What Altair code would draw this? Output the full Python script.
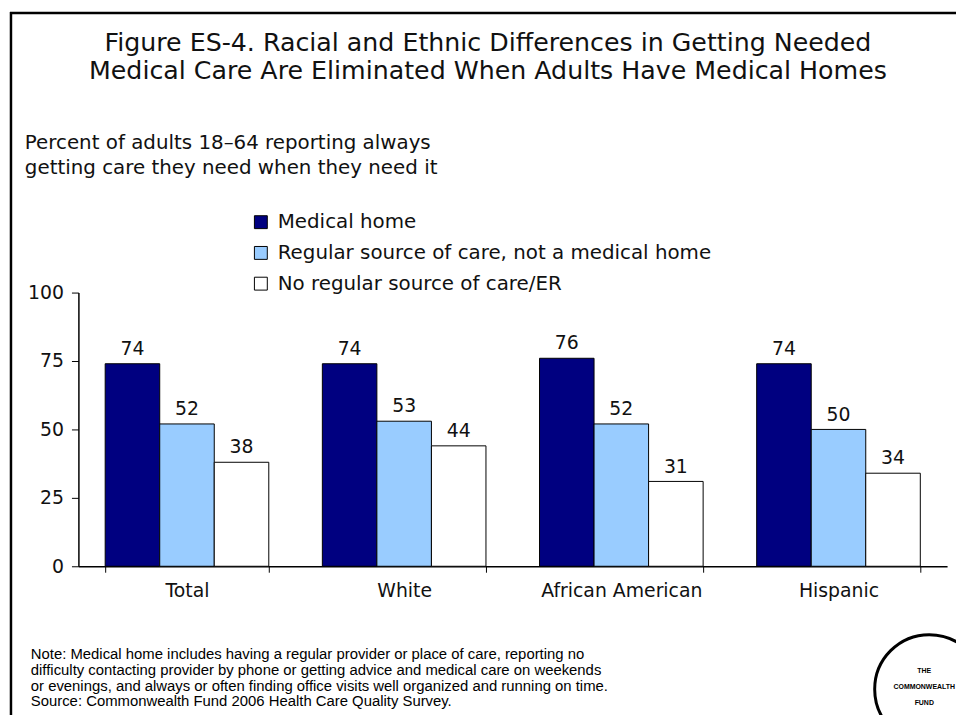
import altair as alt
import pandas as pd

categories = ["Total", "White", "African American", "Hispanic"]
groups = ["Medical home", "Regular source of care, not a medical home", "No regular source of care/ER"]
values = {
    "Medical home": [74, 74, 76, 74],
    "Regular source of care, not a medical home": [52, 53, 52, 50],
    "No regular source of care/ER": [38, 44, 31, 34],
}
colors = ["#000080", "#99CCFF", "#FFFFFF"]
y_ticks = [0, 25, 50, 75, 100]

title_lines = "Figure ES-4. Racial and Ethnic Differences in Getting Needed\nMedical Care Are Eliminated When Adults Have Medical Homes"
subtitle_lines = "Percent of adults 18\u201364 reporting always\ngetting care they need when they need it"
note_lines = ("Note: Medical home includes having a regular provider or place of care, reporting no\n"
              "difficulty contacting provider by phone or getting advice and medical care on weekends\n"
              "or evenings, and always or often finding office visits well organized and running on time.\n"
              "Source: Commonwealth Fund 2006 Health Care Quality Survey.")
logo_lines = "THE\nCOMMONWEALTH\nFUND"

rows = []
for g in groups:
    for c, v in zip(categories, values[g]):
        rows.append({"Category": c, "Group": g, "Value": v})
df = pd.DataFrame(rows)

FONT = "DejaVu Sans"
TXT = "#111111"

x_enc = alt.X("Category:N", sort=categories,
              scale=alt.Scale(paddingInner=0.2466, paddingOuter=0.1233),
              axis=alt.Axis(title=None, labelAngle=0, labelFontSize=19, labelFont=FONT,
                            labelColor=TXT, domainColor="black", tickColor="black",
                            tickBand="extent", tickSize=6, labelPadding=9, domainWidth=1.5))
xo_enc = alt.XOffset("Group:N", sort=groups)
y_enc = alt.Y("Value:Q", scale=alt.Scale(domain=[0, 100], nice=False),
              axis=alt.Axis(title=None, values=y_ticks, grid=False, labelFontSize=19,
                            labelFont=FONT, labelColor=TXT, domainColor="black",
                            tickColor="black", tickSize=7, labelPadding=8, domainWidth=1.5))

bars = alt.Chart(df).mark_bar(stroke="black", strokeWidth=1).encode(
    x=x_enc, xOffset=xo_enc, y=y_enc,
    color=alt.Color("Group:N", sort=groups,
                    scale=alt.Scale(domain=groups, range=colors),
                    legend=alt.Legend(title=None, orient="none", legendX=174, legendY=-81,
                                      symbolType="square", symbolSize=169,
                                      symbolStrokeColor="black", symbolStrokeWidth=1,
                                      labelFontSize=20, labelFont=FONT, labelColor=TXT,
                                      labelOffset=7, rowPadding=11, padding=0,
                                      labelLimit=800)),
)

labels = alt.Chart(df).mark_text(baseline="alphabetic", dy=-9, fontSize=19, font=FONT,
                                 color=TXT).encode(
    x=alt.X("Category:N", sort=categories), xOffset=xo_enc, y="Value:Q", text="Value:Q")

def text_layer(txt, x, y, **kw):
    return alt.Chart(pd.DataFrame({"t": [txt]})).mark_text(lineBreak="\n", **kw).encode(
        x=alt.value(x), y=alt.value(y), text="t:N")

title = text_layer(title_lines, 413, -244, align="center", baseline="alphabetic",
                   fontSize=25.5, font=FONT, color=TXT, lineHeight=29)
subtitle = text_layer(subtitle_lines, -54, -145, align="left", baseline="alphabetic",
                      fontSize=20, font=FONT, color=TXT, lineHeight=25)
note = text_layer(note_lines, -48, 365, align="left", baseline="middle",
                  fontSize=15, font="Liberation Sans", color="black", lineHeight=15.7)
logo_text = text_layer(logo_lines, 853, 382, align="center", baseline="middle",
                       fontSize=7, font="Liberation Sans", fontWeight="bold", color="black",
                       lineHeight=16)
logo_circle = alt.Chart(pd.DataFrame({"t": ["logo"]})).mark_point(
    shape="circle", filled=False, size=12100, strokeWidth=3, color="black", opacity=1).encode(
    x=alt.value(858), y=alt.value(400))

frame_top = alt.Chart(pd.DataFrame({"t": ["top"]})).mark_rule(color="black", strokeWidth=2.5).encode(
    x=alt.value(-69), x2=alt.value(900), y=alt.value(-282))
frame_left = alt.Chart(pd.DataFrame({"t": ["left"]})).mark_rule(color="black", strokeWidth=2.5).encode(
    x=alt.value(-68), y=alt.value(-283), y2=alt.value(440))

chart = alt.layer(frame_top, frame_left, bars, labels, title, subtitle, note,
                  logo_circle, logo_text).properties(
    width=876, height=276,
    autosize=alt.AutoSizeParams(type="none"),
    padding={"left": 71, "top": 284, "right": 9, "bottom": 147},
).configure(background="white").configure_view(stroke="transparent", strokeWidth=0)

chart.save("out.html", embed_options={"renderer": "svg", "actions": False})
